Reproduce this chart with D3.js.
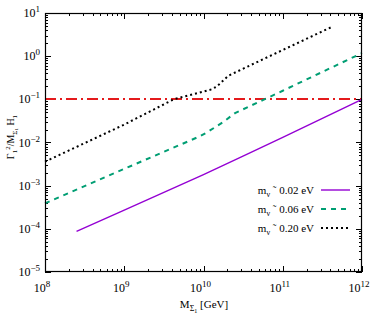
<!DOCTYPE html>
<html>
<head>
<meta charset="utf-8">
<script src="https://cdn.jsdelivr.net/npm/d3@7"></script>
<style>
body { margin: 0; background: #fff; }
text { font-family: "Liberation Serif", "DejaVu Serif", serif; }
</style>
</head>
<body>
<svg id="graph"></svg>
<script>
var width = 382, height = 327;
var margin = {left: 45, right: 20, top: 13, bottom: 55};

// M_Sigma1 [GeV] and Gamma ratio for each neutrino mass
var massA = [2.5e8, 1e9, 1e10, 3.2e10, 1e11, 1e12];
var ratioA = [8.7e-5, 2.7e-4, 1.8e-3, 4.9e-3, 1.32e-2, 0.1];
var massB = [1e8, 1e9, 8.9e9, 1.12e10, 1.78e10, 2.5e10, 1e11, 1e12];
var ratioB = [3.9e-4, 2.45e-3, 1.38e-2, 1.74e-2, 3.0e-2, 4.8e-2, 0.158, 1.18];
var massC = [1e8, 1e9, 4.2e9, 1e10, 1.26e10, 1.48e10, 2.05e10, 3.6e10, 4.3e11];
var ratioC = [3.6e-3, 2.6e-2, 0.1, 0.151, 0.17, 0.2, 0.35, 0.575, 4.9];
var bound = 0.1;
var labels = ["0.02 eV", "0.06 eV", "0.20 eV"];
var color = ["#9400d3", "#009e73", "#000000", "#e41a1c"];
var xTicks = [8, 9, 10, 11, 12];
var yTicks = [-5, -4, -3, -2, -1, 0, 1];

var svg = d3.select("#graph")
	.attr("width", width)
	.attr("height", height);

var x = d3.scaleLog().domain([1e8, 1e12]).range([margin.left, width - margin.right]);
var y = d3.scaleLog().domain([1e-5, 10]).range([height - margin.bottom, margin.top]);
var x0 = margin.left, x1 = width - margin.right;
var y0 = height - margin.bottom, y1 = margin.top;

// minor and major ticks, drawn inward on all four sides
var minorX = [], minorY = [];
for (var e = 8; e < 12; e++)
	for (var k = 2; k < 10; k++) minorX.push(k * Math.pow(10, e));
for (var e = -5; e < 1; e++)
	for (var k = 2; k < 10; k++) minorY.push(k * Math.pow(10, e));

var ticks = svg.append("g").attr("stroke", "#000").attr("stroke-width", 1);
minorX.forEach(function (v) {
	var px = Math.round(x(v)) + 0.5;
	ticks.append("line").attr("x1", px).attr("x2", px).attr("y1", y0).attr("y2", y0 - 3);
	ticks.append("line").attr("x1", px).attr("x2", px).attr("y1", y1).attr("y2", y1 + 3);
});
xTicks.forEach(function (e) {
	var px = Math.round(x(Math.pow(10, e))) + 0.5;
	ticks.append("line").attr("x1", px).attr("x2", px).attr("y1", y0).attr("y2", y0 - 6);
	ticks.append("line").attr("x1", px).attr("x2", px).attr("y1", y1).attr("y2", y1 + 6);
});
minorY.forEach(function (v) {
	var py = Math.round(y(v)) + 0.5;
	ticks.append("line").attr("x1", x0).attr("x2", x0 + 3).attr("y1", py).attr("y2", py);
	ticks.append("line").attr("x1", x1).attr("x2", x1 - 3).attr("y1", py).attr("y2", py);
});
yTicks.forEach(function (e) {
	var py = Math.round(y(Math.pow(10, e))) + 0.5;
	ticks.append("line").attr("x1", x0).attr("x2", x0 + 6).attr("y1", py).attr("y2", py);
	ticks.append("line").attr("x1", x1).attr("x2", x1 - 6).attr("y1", py).attr("y2", py);
});

// tick labels 10^n
xTicks.forEach(function (e) {
	var t = svg.append("text")
		.attr("x", x(Math.pow(10, e)) - 3)
		.attr("y", y0 + 20)
		.attr("text-anchor", "middle")
		.attr("font-size", "12px");
	t.append("tspan").text("10");
	t.append("tspan").attr("dy", -5).attr("font-size", "9px").text(e);
});
yTicks.forEach(function (e) {
	var t = svg.append("text")
		.attr("x", x0 - 5)
		.attr("y", y(Math.pow(10, e)) + 4)
		.attr("text-anchor", "end")
		.attr("font-size", "12px");
	t.append("tspan").text("10");
	t.append("tspan").attr("dy", -5).attr("font-size", "9px").text(e < 0 ? "\u2212" + (-e) : e);
});

// axis titles
var xl = svg.append("text")
	.attr("x", 204)
	.attr("y", y0 + 36)
	.attr("text-anchor", "middle")
	.attr("font-size", "11px");
xl.append("tspan").text("M");
xl.append("tspan").attr("dy", 3).attr("font-size", "8px").text("Σ");
xl.append("tspan").attr("dy", 2).attr("font-size", "6px").text("1");
xl.append("tspan").attr("dy", -5).text(" [GeV]");

var yl = svg.append("text")
	.attr("transform", "translate(14,137) rotate(-90)")
	.attr("text-anchor", "middle")
	.attr("font-size", "10px");
yl.append("tspan").text("Γ");
yl.append("tspan").attr("dy", 3).attr("font-size", "7px").text("1");
yl.append("tspan").attr("dy", -7).attr("font-size", "7px").text("2");
yl.append("tspan").attr("dy", 4).text("/M");
yl.append("tspan").attr("dy", 3).attr("font-size", "7px").text("Σ");
yl.append("tspan").attr("dy", 1).attr("font-size", "5px").text("1");
yl.append("tspan").attr("dy", -4).text(" H");
yl.append("tspan").attr("dy", 3).attr("font-size", "7px").text("1");

// curves
var line = d3.line().x(d => x(d[0])).y(d => y(d[1]));
var plot = svg.append("g");
plot.append("line")
	.attr("x1", x0).attr("x2", x1)
	.attr("y1", Math.round(y(bound))).attr("y2", Math.round(y(bound)))
	.attr("stroke", color[3]).attr("stroke-width", 2)
	.attr("stroke-dasharray", "11,4,2,4");

var series = [
	{m: massA, r: ratioA, dash: null, w: 1.4},
	{m: massB, r: ratioB, dash: "5,5", w: 2},
	{m: massC, r: ratioC, dash: "2,3", w: 2}
];
series.forEach(function (s, i) {
	plot.append("path")
		.attr("d", line(d3.zip(s.m, s.r)))
		.attr("fill", "none")
		.attr("stroke", color[i])
		.attr("stroke-width", s.w)
		.attr("stroke-dasharray", s.dash);
});

// legend
series.forEach(function (s, i) {
	var ly = 190 + i * 19;
	var t = svg.append("text")
		.attr("x", 314)
		.attr("y", ly + 4)
		.attr("text-anchor", "end")
		.attr("font-size", "11px");
	t.append("tspan").text("m");
	t.append("tspan").attr("dy", 3).attr("font-size", "8px").text("ν");
	t.append("tspan").attr("dy", -3).text(" ˜ " + labels[i]);
	svg.append("line")
		.attr("x1", 321).attr("x2", 350)
		.attr("y1", ly).attr("y2", ly)
		.attr("stroke", color[i])
		.attr("stroke-width", s.w)
		.attr("stroke-dasharray", s.dash);
});

// frame
svg.append("rect")
	.attr("x", x0 + 0.5).attr("y", y1 + 0.5)
	.attr("width", x1 - x0 - 1).attr("height", y0 - y1 - 1)
	.attr("fill", "none")
	.attr("stroke", "#000")
	.attr("stroke-width", 1.2);
</script>
</body>
</html>
